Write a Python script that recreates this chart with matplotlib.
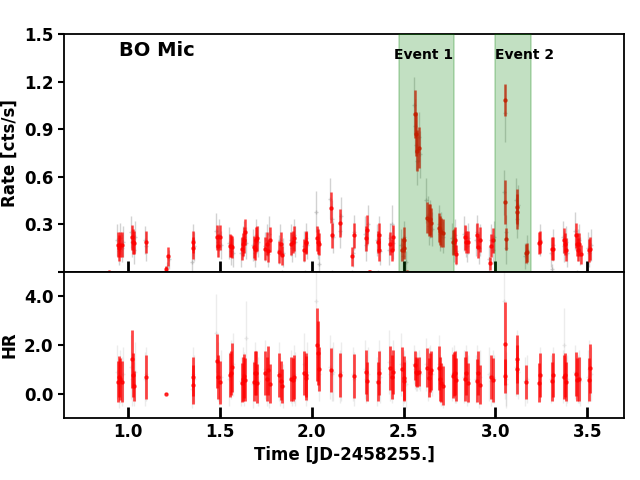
import numpy as np
import matplotlib.pyplot as plt

nan = np.nan

# coarse bins (red)
red_t = [0.893, 0.943, 0.951, 0.956, 0.965, 1.020, 1.024, 1.029, 1.094,
         1.208, 1.219, 1.350, 1.355, 1.484, 1.490, 1.500, 1.553, 1.560, 1.566,
         1.618, 1.624, 1.631, 1.638, 1.683, 1.692, 1.697, 1.703,
         1.746, 1.755, 1.763, 1.770, 1.822, 1.830, 1.839, 1.886, 1.895, 1.904,
         1.958, 1.966, 1.970, 2.029, 2.035, 2.040, 2.105, 2.110, 2.154,
         2.219, 2.230, 2.293, 2.300, 2.313, 2.317, 2.360, 2.364, 2.368,
         2.425, 2.435, 2.442, 2.493, 2.500, 2.503, 2.517,
         2.562, 2.567, 2.574, 2.583, 2.627, 2.638, 2.644, 2.649,
         2.692, 2.700, 2.705, 2.714, 2.768, 2.774, 2.777, 2.784,
         2.833, 2.840, 2.850, 2.898, 2.906, 2.913, 2.969, 2.977, 2.989,
         3.050, 3.054, 3.056, 3.116, 3.119, 3.165, 3.170, 3.238, 3.241,
         3.308, 3.313, 3.371, 3.378, 3.384, 3.438, 3.443, 3.447, 3.454, 3.465,
         3.507, 3.514]
red_rate = [0.0, 0.17, 0.15, 0.17, 0.17, 0.216, 0.19, 0.184, 0.186,
            0.014, 0.096, 0.15, 0.186, 0.216, 0.165, 0.216, 0.165, 0.16, 0.155,
            0.146, 0.172, 0.20, 0.25, 0.155, 0.142, 0.203, 0.21,
            0.146, 0.178, 0.13, 0.203, 0.123, 0.178, 0.104, 0.178, 0.188, 0.21,
            0.136, 0.182, 0.19, 0.21, 0.19, 0.174, 0.405, 0.229, 0.306,
            0.098, 0.229, 0.21, 0.266, 0.0, 0.0, 0.188, 0.23, 0.14,
            0.178, 0.136, 0.216, 0.14, 0.15, 0.203, 0.0,
            0.995, 0.868, 0.763, 0.784, 0.342, 0.325, 0.33, 0.31,
            0.279, 0.26, 0.248, 0.245, 0.186, 0.19, 0.203, 0.11,
            0.216, 0.186, 0.186, 0.229, 0.157, 0.203, 0.052, 0.165, 0.197,
            0.44, 1.083, 0.205, 0.38, 0.41, 0.117, 0.123, 0.18, 0.186,
            0.146, 0.146, 0.197, 0.174, 0.14, 0.229, 0.172, 0.14, 0.172, 0.11,
            0.134, 0.146]
red_rate_err = [0.0, 0.08, 0.08, 0.08, 0.08, 0.08, 0.08, 0.07, 0.07,
                0.02, 0.06, 0.07, 0.07, 0.08, 0.07, 0.08, 0.07, 0.07, 0.07,
                0.07, 0.07, 0.08, 0.08, 0.07, 0.07, 0.08, 0.08,
                0.07, 0.07, 0.07, 0.08, 0.07, 0.07, 0.06, 0.07, 0.07, 0.08,
                0.07, 0.07, 0.07, 0.08, 0.08, 0.07, 0.10, 0.08, 0.09,
                0.06, 0.08, 0.08, 0.09, 0.0, 0.0, 0.07, 0.08, 0.07,
                0.07, 0.07, 0.08, 0.07, 0.07, 0.08, 0.0,
                0.15, 0.14, 0.13, 0.13, 0.10, 0.10, 0.10, 0.09,
                0.09, 0.09, 0.09, 0.09, 0.08, 0.08, 0.08, 0.06,
                0.08, 0.07, 0.07, 0.08, 0.07, 0.08, 0.04, 0.07, 0.08,
                0.14, 0.10, 0.07, 0.11, 0.11, 0.06, 0.06, 0.07, 0.07,
                0.07, 0.07, 0.08, 0.07, 0.07, 0.08, 0.07, 0.07, 0.07, 0.06,
                0.07, 0.07]
red_hr = [nan, 0.49, 0.70, 0.60, 0.49, 1.42, 0.75, 0.32, 0.67,
          0.0, nan, 0.36, 0.70, 1.33, 0.68, 0.46, 0.75, 0.83, 1.08,
          0.44, 0.62, 0.72, 0.58, 0.49, 0.86, 0.83, 0.42,
          0.86, 0.62, 0.96, 0.40, 0.78, 0.53, 0.32, 0.62, 0.58, 0.67,
          0.86, 0.65, 0.75, 2.0, 1.67, 1.0, 0.96, nan, 0.75,
          nan, 0.74, 0.90, 0.51, nan, nan, 0.49, 0.86, nan,
          1.07, 0.67, 0.90, 1.0, 0.64, 0.51, nan,
          1.17, 0.90, 0.86, 0.90, 1.07, 0.65, 0.86, 0.97,
          1.07, 0.61, 0.44, 0.32, 0.72, 0.79, 0.83, 0.58,
          0.62, 0.83, 0.44, 0.54, 0.83, 0.36, nan, 0.70, 0.56,
          2.04, 0.74, nan, 1.0, 1.42, 0.49, nan, 0.44, 0.75,
          0.50, 0.75, 0.67, 0.75, 0.49, 0.82, 0.58, nan, 0.62, nan,
          0.58, 1.04]
red_hr_err = [nan, 0.85, 0.85, 0.85, 0.85, 1.2, 0.9, 0.6, 0.9,
              0.03, nan, 0.8, 0.8, 1.1, 0.9, 0.9, 0.9, 0.9, 1.0,
              0.8, 0.9, 0.9, 0.9, 0.8, 0.9, 0.9, 0.8,
              0.9, 0.9, 1.0, 0.8, 0.9, 0.8, 0.7, 0.9, 0.9, 0.9,
              0.9, 0.9, 0.9, 1.5, 1.3, 0.9, 0.9, nan, 0.9,
              nan, 0.9, 0.9, 0.8, nan, nan, 0.8, 0.9, nan,
              0.9, 0.9, 0.9, 0.9, 0.9, 0.8, nan,
              0.6, 0.6, 0.6, 0.6, 0.8, 0.8, 0.8, 0.8,
              0.9, 0.9, 0.8, 0.8, 0.9, 0.9, 0.9, 0.9,
              0.9, 0.9, 0.8, 0.9, 0.9, 0.8, nan, 0.9, 0.9,
              1.7, 0.7, nan, 1.0, 1.0, 0.7, nan, 0.8, 0.9,
              0.8, 0.9, 0.9, 0.9, 0.8, 0.9, 0.9, nan, 0.9, nan,
              0.9, 1.0]

# fine bins (grey)
grey_t = [0.940, 0.948, 0.956, 0.964, 0.972, 1.015, 1.022, 1.030, 1.035,
          1.090, 1.097, 1.212, 1.222, 1.345, 1.352, 1.358,
          1.480, 1.488, 1.495, 1.503, 1.550, 1.558, 1.568,
          1.615, 1.625, 1.633, 1.640, 1.680, 1.690, 1.698, 1.705,
          1.745, 1.753, 1.761, 1.768, 1.820, 1.828, 1.835, 1.842,
          1.885, 1.893, 1.900, 1.908, 1.955, 1.962, 1.968, 1.975,
          2.025, 2.033, 2.040, 2.100, 2.108, 2.110, 2.115, 2.155, 2.160,
          2.218, 2.225, 2.232, 2.288, 2.296, 2.304,
          2.355, 2.362, 2.366, 2.372, 2.420, 2.428, 2.436, 2.444,
          2.488, 2.495, 2.503, 2.510,
          2.555, 2.562, 2.568, 2.575, 2.582, 2.588,
          2.622, 2.630, 2.638, 2.645, 2.652, 2.690, 2.698, 2.706, 2.714,
          2.765, 2.772, 2.780, 2.787, 2.830, 2.837, 2.845, 2.852,
          2.895, 2.902, 2.910, 2.917, 2.965, 2.975, 2.985, 2.992,
          3.048, 3.050, 3.055, 3.060, 3.112, 3.118, 3.122, 3.162, 3.170,
          3.240, 3.303, 3.308, 3.313, 3.368, 3.375, 3.382, 3.388,
          3.435, 3.442, 3.447, 3.455, 3.462, 3.505, 3.512, 3.518]
grey_rate = [0.20, 0.13, 0.21, 0.15, 0.19, 0.25, 0.19, 0.14, 0.22,
             0.20, 0.16, 0.03, 0.08, 0.06, 0.20, 0.16,
             0.26, 0.19, 0.23, 0.17, 0.18, 0.13, 0.12,
             0.12, 0.19, 0.22, 0.18, 0.17, 0.12, 0.23, 0.19,
             0.16, 0.20, 0.11, 0.24, 0.14, 0.20, 0.0, 0.12,
             0.20, 0.15, 0.23, 0.19, 0.16, 0.0, 0.21, 0.17,
             0.38, 0.18, 0.05, 0.46, 0.33, 0.0, 0.22, 0.26, 0.35,
             0.0, 0.12, 0.25, 0.24, 0.17, 0.30,
             0.20, 0.0, 0.24, 0.13, 0.14, 0.21, 0.30, 0.18,
             0.17, 0.10, 0.22, 0.06,
             1.05, 0.92, 0.80, 0.70, 0.85, 0.74,
             0.45, 0.36, 0.29, 0.33, 0.27, 0.30, 0.24, 0.27, 0.22,
             0.21, 0.16, 0.23, 0.13, 0.24, 0.19, 0.16, 0.21,
             0.20, 0.25, 0.15, 0.20, 0.08, 0.20, 0.14, 0.22,
             0.50, 1.00, 0.25, 0.15, 0.45, 0.33, 0.42, 0.10, 0.14,
             0.20, 0.12, 0.02, 0.17, 0.22, 0.16, 0.19, 0.12,
             0.26, 0.0, 0.17, 0.20, 0.13, 0.15, 0.12, 0.17]
grey_rate_err = [0.10, 0.09, 0.10, 0.09, 0.10, 0.10, 0.10, 0.09, 0.10,
                 0.09, 0.09, 0.03, 0.06, 0.06, 0.10, 0.09,
                 0.11, 0.10, 0.10, 0.09, 0.10, 0.09, 0.09,
                 0.09, 0.10, 0.10, 0.10, 0.10, 0.09, 0.10, 0.10,
                 0.09, 0.10, 0.08, 0.11, 0.09, 0.10, 0.0, 0.09,
                 0.10, 0.09, 0.10, 0.10, 0.10, 0.0, 0.10, 0.09,
                 0.13, 0.10, 0.06, 0.13, 0.12, 0.0, 0.10, 0.11, 0.12,
                 0.0, 0.09, 0.11, 0.11, 0.10, 0.12,
                 0.10, 0.0, 0.11, 0.09, 0.10, 0.10, 0.12, 0.10,
                 0.10, 0.09, 0.10, 0.07,
                 0.18, 0.17, 0.16, 0.15, 0.16, 0.15,
                 0.14, 0.12, 0.12, 0.12, 0.11, 0.12, 0.11, 0.11, 0.10,
                 0.10, 0.10, 0.10, 0.09, 0.11, 0.10, 0.10, 0.10,
                 0.10, 0.11, 0.10, 0.10, 0.08, 0.10, 0.09, 0.10,
                 0.14, 0.18, 0.11, 0.10, 0.14, 0.12, 0.13, 0.08, 0.09,
                 0.10, 0.09, 0.03, 0.10, 0.10, 0.10, 0.10, 0.09,
                 0.12, 0.0, 0.10, 0.10, 0.09, 0.10, 0.09, 0.10]
grey_hr = [0.9, 0.3, 0.7, 0.5, 0.8, 1.1, 0.6, 0.4, 0.9,
           0.6, 0.8, nan, nan, 0.2, 0.8, 0.6,
           2.5, 0.9, 0.5, 0.7, 0.6, 1.0, 1.2,
           0.5, 0.8, 0.6, 2.3, 0.4, 0.9, 0.7, 0.5,
           1.0, 0.6, 0.8, 0.4, 0.9, 0.5, nan, 0.3,
           0.7, 0.5, 0.8, 0.6, 1.2, nan, 0.6, 0.9,
           3.8, 1.5, 0.8, 1.1, 0.8, nan, 0.9, 0.7, 0.9,
           nan, 0.8, 0.6, 1.0, 0.6, 0.8,
           0.5, nan, 1.0, 0.7, 1.3, 0.8, 0.7, 1.0,
           1.2, 0.6, 0.7, 0.4,
           1.2, 1.0, 0.8, 0.9, 1.0, 0.8,
           1.2, 0.7, 0.9, 1.0, 0.8, 1.2, 0.6, 0.5, 0.3,
           0.8, 0.9, 0.6, 0.7, 0.7, 0.9, 0.5, 0.6,
           0.6, 0.9, 0.4, 0.7, 0.8, 0.5, 0.7, 0.6,
           3.8, 0.8, 0.6, 0.4, 1.1, 1.3, 0.9, 0.5, 0.6,
           0.8, 0.6, nan, 0.8, 0.7, 2.0, 0.5, 0.6,
           0.9, nan, 0.6, 0.7, 0.5, 0.7, 1.0, 0.8]
grey_hr_err = [1.1, 0.9, 1.1, 1.0, 1.1, 1.3, 1.1, 0.9, 1.2,
               1.1, 1.1, nan, nan, 0.8, 1.1, 1.0,
               1.6, 1.2, 1.0, 1.1, 1.1, 1.2, 1.3,
               1.0, 1.1, 1.1, 1.5, 1.0, 1.2, 1.1, 1.0,
               1.2, 1.1, 1.1, 1.0, 1.2, 1.0, nan, 0.9,
               1.1, 1.0, 1.2, 1.1, 1.3, nan, 1.1, 1.2,
               1.8, 1.4, 1.1, 1.3, 1.1, nan, 1.2, 1.1, 1.2,
               nan, 1.1, 1.1, 1.2, 1.0, 1.1,
               1.0, nan, 1.2, 1.1, 1.3, 1.1, 1.1, 1.2,
               1.3, 1.1, 1.1, 1.0,
               0.8, 0.8, 0.7, 0.8, 0.8, 0.7,
               1.1, 1.0, 1.0, 1.0, 0.9, 1.2, 1.0, 1.0, 0.9,
               1.1, 1.1, 1.0, 1.1, 1.1, 1.1, 1.0, 1.0,
               1.0, 1.1, 1.0, 1.1, 1.1, 1.0, 1.1, 1.0,
               1.6, 1.0, 1.1, 1.0, 1.2, 1.3, 1.1, 1.0, 1.0,
               1.1, 1.0, nan, 1.1, 1.1, 1.5, 1.0, 1.0,
               1.1, nan, 1.0, 1.1, 1.0, 1.1, 1.2, 1.1]

events = [(2.473, 2.772, 'Event 1', 2.445), (2.995, 3.196, 'Event 2', 2.998)]

fig = plt.figure(figsize=(6.4, 4.8), dpi=100)
gs = fig.add_gridspec(2, 1, height_ratios=[237, 146], hspace=0,
                      left=0.1, right=0.975, top=0.929, bottom=0.129)
ax1 = fig.add_subplot(gs[0])
ax2 = fig.add_subplot(gs[1], sharex=ax1)

ax1.errorbar(grey_t, grey_rate, yerr=grey_rate_err, fmt='+', color='grey',
             ms=3, elinewidth=1, alpha=0.35, zorder=1)
ax1.errorbar(red_t, red_rate, yerr=red_rate_err, fmt='o', color='red',
             ms=2.2, elinewidth=1.8, alpha=0.75, zorder=2)
ax2.errorbar(grey_t, grey_hr, yerr=grey_hr_err, fmt='+', color='grey',
             ms=3, elinewidth=1, alpha=0.15, zorder=1)
ax2.errorbar(red_t, red_hr, yerr=red_hr_err, fmt='o', color='red',
             ms=2.2, elinewidth=2, alpha=0.72, zorder=2)

for t0, t1, name, tx in events:
    ax1.axvspan(t0, t1, facecolor='g', edgecolor='g', alpha=0.24, lw=1.2, zorder=3)
    ax1.text(tx, 1.37, name, ha='left', va='center',
             fontsize=10, fontweight='bold', zorder=4)

ax1.text(0.165, 0.93, 'BO Mic', transform=ax1.transAxes, ha='center', va='center',
         fontsize=14, fontweight='bold')

ax1.set_xlim(0.65, 3.70)
ax1.set_ylim(0, 1.5)
ax1.set_yticks([0, 0.3, 0.6, 0.9, 1.2, 1.5])
ax1.set_yticklabels(['', '0.3', '0.6', '0.9', '1.2', '1.5'])
ax2.set_ylim(-1, 5)
ax2.set_yticks([0, 2, 4])
ax2.set_yticklabels(['0.0', '2.0', '4.0'])
ax2.set_xticks([1.0, 1.5, 2.0, 2.5, 3.0, 3.5])
ax2.set_xticklabels(['1.0', '1.5', '2.0', '2.5', '3.0', '3.5'])
plt.setp(ax1.get_xticklabels(), visible=False)

for ax in (ax1, ax2):
    ax.tick_params(axis='x', direction='in', length=8, width=2)
    ax.tick_params(axis='y', direction='out', length=4, width=1.5)
    for lab in ax.get_xticklabels() + ax.get_yticklabels():
        lab.set_fontweight('bold')
        lab.set_fontsize(12)
    for sp in ax.spines.values():
        sp.set_linewidth(1.3)

ax1.set_ylabel('Rate [cts/s]', fontsize=12, fontweight='bold')
ax2.set_ylabel('HR', fontsize=12, fontweight='bold')
ax2.set_xlabel('Time [JD-2458255.]', fontsize=12, fontweight='bold')
fig.align_ylabels([ax1, ax2])

fig.savefig('out.png', dpi=100)
